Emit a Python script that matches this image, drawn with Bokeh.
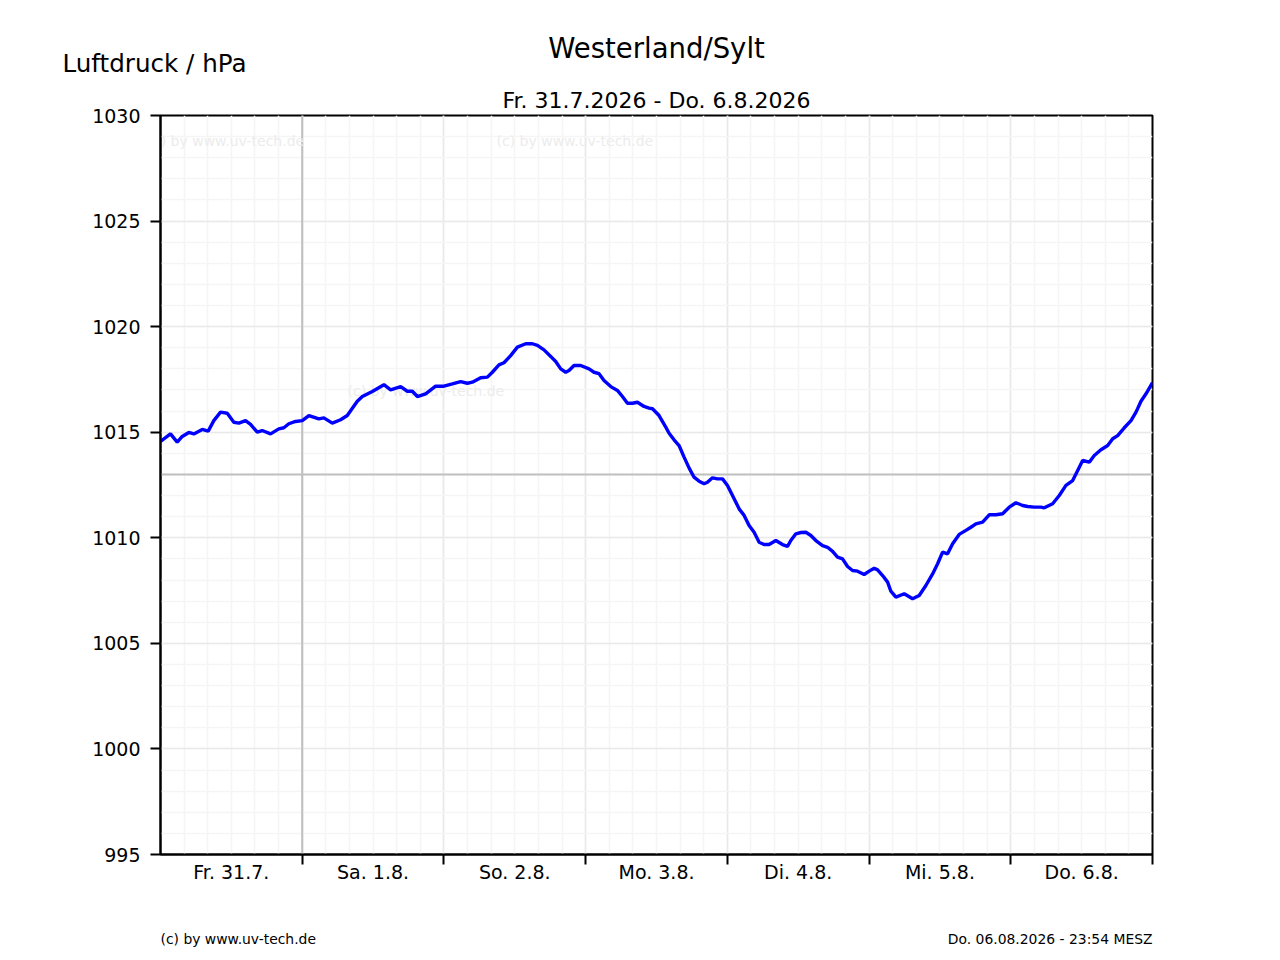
from bokeh.plotting import figure
from bokeh.models import Range1d, FixedTicker, Span, Label
from bokeh.layouts import column
from bokeh.core.properties import value
from bokeh.embed import file_html
from bokeh.resources import INLINE

# ---- data -------------------------------------------------------------
station = "Westerland/Sylt"
period = "Fr. 31.7.2026 - Do. 6.8.2026"
y_title = "Luftdruck / hPa"
credit = "(c) by www.uv-tech.de"
stamp = "Do. 06.08.2026 - 23:54 MESZ"

day_labels = ["Fr. 31.7.", "Sa. 1.8.", "So. 2.8.", "Mo. 3.8.", "Di. 4.8.", "Mi. 5.8.", "Do. 6.8."]
y_ticks = [995, 1000, 1005, 1010, 1015, 1020, 1025, 1030]
ref_pressure = 1013

# hours since Fr. 31.7. 00:00
hours = [0.0, 1.69, 2.83, 3.68, 4.80, 5.64, 7.07, 8.08, 9.03, 10.17, 11.30, 12.42, 13.27, 14.40,
         15.25, 16.38, 17.23, 18.64, 20.04, 20.89, 21.74, 22.87, 24.01, 25.13, 26.82, 27.67,
         29.09, 30.50, 31.63, 33.33, 34.18, 35.87, 37.84, 38.97, 40.67, 41.80, 42.65, 43.50,
         44.90, 46.60, 48.00, 49.43, 50.83, 51.97, 52.81, 54.22, 55.36, 56.20, 57.32, 58.17,
         59.30, 60.44, 61.85, 62.98, 63.83, 64.95, 66.08, 66.93, 67.78, 68.62, 69.18, 70.03,
         71.16, 72.57, 73.42, 74.27, 75.11, 76.25, 77.38, 78.23, 79.08, 79.93, 80.77, 81.89,
         82.74, 83.32, 84.43, 85.57, 86.13, 86.97, 87.82, 88.67, 89.51, 90.36, 91.21, 92.06,
         92.63, 93.48, 94.33, 95.18, 96.02, 96.87, 97.99, 98.84, 99.68, 100.53, 101.38, 102.22,
         103.07, 104.21, 105.34, 106.19, 106.75, 107.60, 108.45, 109.29, 110.14, 110.99, 112.12,
         112.97, 113.82, 114.66, 115.51, 116.36, 117.20, 118.05, 119.17, 120.02, 120.87, 121.44,
         122.29, 123.14, 123.69, 124.54, 125.95, 127.37, 128.49, 129.62, 130.76, 131.61, 132.45,
         133.30, 134.15, 135.26, 136.40, 137.25, 138.09, 139.23, 140.35, 141.48, 142.62, 143.74,
         144.87, 146.01, 146.86, 147.97, 149.11, 149.67, 151.09, 152.21, 153.34, 154.48, 155.33,
         156.17, 157.29, 158.14, 159.27, 160.41, 161.26, 162.10, 163.22, 164.36, 165.21, 166.05,
         166.90, 168.0]

pressure = [1014.56, 1014.92, 1014.53, 1014.80, 1014.99, 1014.92, 1015.13, 1015.05, 1015.55,
            1015.95, 1015.90, 1015.47, 1015.43, 1015.55, 1015.37, 1015.00, 1015.08, 1014.92,
            1015.16, 1015.21, 1015.40, 1015.51, 1015.55, 1015.79, 1015.63, 1015.68, 1015.43,
            1015.59, 1015.79, 1016.47, 1016.69, 1016.93, 1017.25, 1017.01, 1017.16, 1016.94,
            1016.94, 1016.69, 1016.82, 1017.18, 1017.18, 1017.29, 1017.40, 1017.32, 1017.37,
            1017.58, 1017.61, 1017.84, 1018.19, 1018.29, 1018.63, 1019.03, 1019.19, 1019.19,
            1019.11, 1018.90, 1018.59, 1018.35, 1018.00, 1017.84, 1017.92, 1018.16, 1018.16,
            1018.00, 1017.84, 1017.77, 1017.45, 1017.16, 1016.98, 1016.69, 1016.37, 1016.37,
            1016.42, 1016.22, 1016.14, 1016.11, 1015.79, 1015.24, 1014.95, 1014.64, 1014.37,
            1013.82, 1013.31, 1012.87, 1012.68, 1012.56, 1012.63, 1012.84, 1012.79, 1012.79,
            1012.48, 1012.00, 1011.37, 1011.06, 1010.58, 1010.26, 1009.79, 1009.68, 1009.68,
            1009.87, 1009.68, 1009.59, 1009.87, 1010.19, 1010.25, 1010.26, 1010.11, 1009.87,
            1009.63, 1009.55, 1009.36, 1009.08, 1009.00, 1008.64, 1008.45, 1008.42, 1008.26,
            1008.42, 1008.56, 1008.48, 1008.21, 1007.90, 1007.47, 1007.19, 1007.35, 1007.11,
            1007.27, 1007.74, 1008.29, 1008.77, 1009.32, 1009.24, 1009.72, 1010.16, 1010.35,
            1010.50, 1010.66, 1010.74, 1011.09, 1011.09, 1011.14, 1011.45, 1011.66, 1011.53,
            1011.48, 1011.45, 1011.45, 1011.42, 1011.61, 1012.00, 1012.48, 1012.71, 1013.19,
            1013.66, 1013.58, 1013.90, 1014.17, 1014.37, 1014.69, 1014.84, 1015.21, 1015.55,
            1015.95, 1016.47, 1016.82, 1017.35]

# ---- layout constants (pixels) -----------------------------------------
W = 1264
HEAD_H = 80
FOOT_H = 42
FRAME_L, FRAME_W, FRAME_H = 160, 992, 739
TOP_B, BOT_B = 35, 60
FONT = "DejaVu Sans"

n_days = len(day_labels)
day_bounds = [24 * i for i in range(n_days + 1)]
day_centers = [24 * i + 12 for i in range(n_days)]


def text_panel(h):
    f = figure(width=W, height=h, output_backend="svg", toolbar_location=None,
               x_range=Range1d(0, W), y_range=Range1d(h, 0),
               x_axis_location=None, y_axis_location=None, min_border=0)
    f.frame_align = False
    f.grid.visible = False
    f.outline_line_color = None
    f.background_fill_color = "white"
    f.border_fill_color = "white"
    return f


def put(f, x, y, text, size, align):
    f.text(x=[x], y=[y], text=[text], text_font=value(FONT), text_font_size=value(size),
           text_color="black", text_align=align, text_baseline="alphabetic")


# header
head = text_panel(HEAD_H)
put(head, FRAME_L + FRAME_W / 2, 47, station, "27.5px", "center")
put(head, 62, 63, y_title, "24.6px", "left")

# main chart
p = figure(width=W, height=TOP_B + FRAME_H + BOT_B, output_backend="svg", toolbar_location=None,
           x_range=Range1d(0, 24 * n_days), y_range=Range1d(y_ticks[0], y_ticks[-1]),
           min_border_left=FRAME_L, min_border_right=W - FRAME_L - FRAME_W,
           min_border_top=TOP_B, min_border_bottom=BOT_B)
p.frame_align = False
p.background_fill_color = "white"
p.border_fill_color = "white"
p.outline_line_color = "black"
p.outline_line_width = 2

p.title.text = period
p.title.align = "center"
p.title.text_font = FONT
p.title.text_font_size = "22px"
p.title.text_font_style = "normal"
p.title.text_color = "black"
p.title.standoff = 5

# grids
p.xgrid.ticker = FixedTicker(ticks=day_bounds, minor_ticks=list(range(0, 24 * n_days + 1, 4)))
p.ygrid.ticker = FixedTicker(ticks=y_ticks, minor_ticks=list(range(y_ticks[0], y_ticks[-1] + 1)))
for g in (p.xgrid[0], p.ygrid[0]):
    g.grid_line_color = "#e9e9e9"
    g.grid_line_width = 1.6
    g.minor_grid_line_color = "#f5f5f5"
    g.minor_grid_line_width = 1.6

# x axis: labels at day centres, tick marks at day boundaries
xa = p.xaxis[0]
xa.ticker = FixedTicker(ticks=day_centers, minor_ticks=day_bounds[1:])
xa.major_label_overrides = {c: lab for c, lab in zip(day_centers, day_labels)}
xa.major_tick_out = 0
xa.major_tick_in = 0
xa.minor_tick_out = 10
xa.minor_tick_in = 0
xa.minor_tick_line_color = "black"
xa.minor_tick_line_width = 2
xa.axis_line_color = "black"
xa.axis_line_width = 2
xa.major_label_standoff = -4
xa.major_label_text_font = FONT
xa.major_label_text_font_size = "19px"
xa.major_label_text_color = "black"

ya = p.yaxis[0]
ya.ticker = FixedTicker(ticks=y_ticks, minor_ticks=[])
ya.major_tick_out = 10
ya.major_tick_in = 0
ya.major_tick_line_width = 2
ya.major_tick_line_color = "black"
ya.minor_tick_out = 0
ya.minor_tick_in = 0
ya.axis_line_color = "black"
ya.axis_line_width = 2
ya.major_label_standoff = 10
ya.major_label_text_font = FONT
ya.major_label_text_font_size = "19px"
ya.major_label_text_color = "black"

# reference lines
p.add_layout(Span(location=day_bounds[1], dimension="height", line_color="#bfbfbf",
                  line_width=2, level="underlay"))
p.add_layout(Span(location=ref_pressure, dimension="width", line_color="#bfbfbf",
                  line_width=2, level="underlay"))

# faint watermarks inside the plot area
for wx, wy in [(-13, 714), (336, 714), (187, 464)]:
    p.add_layout(Label(x=wx, y=wy, x_units="screen", y_units="screen", text=credit,
                       text_font=FONT, text_font_size="14px", text_color="#ececec",
                       text_align="left", text_baseline="alphabetic", level="underlay"))

p.line(hours, pressure, line_color="#0000ff", line_width=3.4)

# footer
foot = text_panel(FOOT_H)
put(foot, FRAME_L, 24, credit, "13.9px", "left")
put(foot, FRAME_L + FRAME_W, 24, stamp, "13.9px", "right")

layout = column(head, p, foot, spacing=0)
open("out.html", "w").write(file_html(layout, INLINE))
